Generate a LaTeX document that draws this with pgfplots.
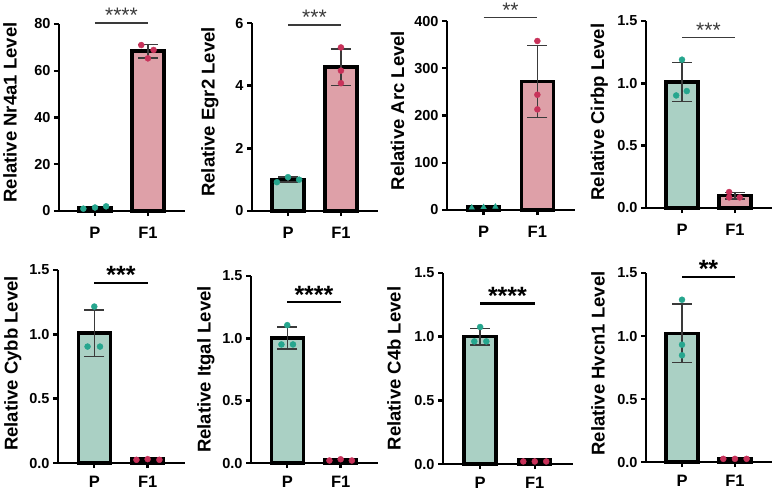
\documentclass[border=0pt]{standalone}
\usepackage{fontspec}
\setmainfont{Liberation Sans}
\usepackage{pgfplots}
\pgfplotsset{compat=1.18}

\definecolor{pfill}{HTML}{AAD0C4}
\definecolor{pdot}{HTML}{26A68E}
\definecolor{ffill}{HTML}{DEA0A8}
\definecolor{fdot}{HTML}{C8325A}
\definecolor{errc}{HTML}{3A3A3A}

\pgfplotsset{
  panel/.style={
    scale only axis, anchor=south west,
    xmin=-0.68, xmax=1.70, ymin=0,
    axis lines=left, axis line style={-, line width=2.4pt, black},
    clip=false,
    xtick={0,1}, xticklabels={P,F1},
    tick align=outside, major tick length=5pt,
    tick style={line width=2.4pt, black},
    /pgf/number format/assume math mode=true,
    yticklabel style={font=\fontsize{14.5}{14.5}\selectfont\bfseries},
    xticklabel style={font=\fontsize{16.5}{16.5}\selectfont\bfseries,
      anchor=center, text height=11.8pt, text depth=0pt, inner sep=0pt, yshift=-17pt},
    ylabel style={font=\fontsize{18.5}{18.5}\selectfont\bfseries,
      anchor=center, text height=13.2pt, text depth=0pt, inner sep=0pt},
  },
  row2/.style={xticklabel style={yshift=3.5pt}},
  frac1/.style={yticklabel style={/pgf/number format/.cd, fixed, fixed zerofill, precision=1}},
  pbar/.style={ybar, bar width=32pt, bar shift=0pt, fill=pfill, draw=black, line width=3.4pt},
  fbar/.style={ybar, bar width=32pt, bar shift=0pt, fill=ffill, draw=black, line width=3.4pt},
  witherr/.style={error bars/.cd, y dir=both, y explicit,
    error bar style={line width=1.5pt, errc},
    error mark options={rotate=90, line width=1.5pt, errc, mark size=10pt}},
  pdots/.style={only marks, mark=*, mark size=3pt, pdot, mark options={fill=pdot, draw=pdot}},
  ptris/.style={only marks, mark=triangle*, mark size=3.2pt, pdot, mark options={fill=pdot, draw=pdot}},
  fdots/.style={only marks, mark=*, mark size=3pt, fdot, mark options={fill=fdot, draw=fdot}},
}
\tikzset{
  sigA/.style={line width=1.4pt, errc},
  sigB/.style={line width=2.5pt, black},
  starA/.style={font=\fontsize{21}{21}\selectfont, text=errc, anchor=base, inner sep=0pt, yshift=0pt},
  starB/.style={font=\fontsize{25}{25}\selectfont\bfseries, text=black, anchor=base, inner sep=0pt, yshift=-1pt},
}

\begin{document}
\begin{tikzpicture}
\path[use as bounding box] (0,0) rectangle (778pt,-491pt);

% ---------- Nr4a1 ----------
\begin{axis}[panel, at={(59pt,-211pt)}, width=126pt, height=187pt,
  ymax=80, ytick={0,20,40,60,80}, ylabel={Relative Nr4a1 Level},
  ylabel style={at={(axis description cs:-0.389,0.527)}}]
\addplot[pbar] coordinates {(0,1.5)};
\addplot[fbar, witherr] coordinates {(1,68.4) +- (0,2.88)};
\addplot[pdots] coordinates {(-0.22,1.0) (0,1.5) (0.21,2.0)};
\addplot[fdots] coordinates {(0.874,71.0) (1.107,68.9) (1.0,65.3)};
\draw[sigA] (axis cs:0,80.5) -- (axis cs:1,80.5);
\node[starA] at (axis cs:0.5,80.5) {****};
\end{axis}

% ---------- Egr2 ----------
\begin{axis}[panel, at={(252pt,-211pt)}, width=126pt, height=188pt,
  ymax=6, ytick={0,2,4,6}, ylabel={Relative Egr2 Level},
  ylabel style={at={(axis description cs:-0.349,0.527)}}]
\addplot[pbar, witherr] coordinates {(0,1.0) +- (0,0.08)};
\addplot[fbar, witherr] coordinates {(1,4.59) +- (0,0.58)};
\addplot[pdots] coordinates {(-0.21,0.92) (0,1.08) (0.21,1.0)};
\addplot[fdots] coordinates {(1,5.22) (1,4.48) (1,4.08)};
\draw[sigA] (axis cs:0,5.94) -- (axis cs:1,5.94);
\node[starA] at (axis cs:0.5,5.94) {***};
\end{axis}

% ---------- Arc ----------
\begin{axis}[panel, at={(447pt,-210pt)}, width=128pt, height=189pt,
  ymax=400, ytick={0,100,200,300,400}, ylabel={Relative Arc Level},
  ylabel style={at={(axis description cs:-0.387,0.526)}}]
\addplot[pbar] coordinates {(0,6)};
\addplot[fbar, witherr] coordinates {(1,271.6) +- (0,76.1)};
\addplot[ptris] coordinates {(-0.22,5) (0,6) (0.22,7)};
\addplot[fdots] coordinates {(1,357.7) (1,244) (1,213)};
\draw[sigA] (axis cs:0,408) -- (axis cs:1,408);
\node[starA] at (axis cs:0.5,408) {**};
\end{axis}

% ---------- Cirbp ----------
\begin{axis}[panel, frac1, at={(646pt,-208pt)}, width=126pt, height=187pt,
  ymax=1.5, ytick={0,0.5,1,1.5}, ylabel={Relative Cirbp Level},
  ylabel style={at={(axis description cs:-0.385,0.513)}}]
\addplot[pbar, witherr] coordinates {(0,1.01) +- (0,0.157)};
\addplot[fbar, witherr] coordinates {(1,0.099) +- (0,0.025)};
\addplot[pdots] coordinates {(0,1.19) (0.09,0.938) (-0.11,0.903)};
\addplot[fdots] coordinates {(0.89,0.128) (0.89,0.085) (1.09,0.085)};
\draw[sigA] (axis cs:0,1.37) -- (axis cs:1,1.37);
\node[starA] at (axis cs:0.5,1.37) {***};
\end{axis}

% ---------- Cybb ----------
\begin{axis}[panel, row2, frac1, at={(58pt,-463pt)}, width=127pt, height=193pt,
  ymax=1.5, ytick={0,0.5,1,1.5}, ylabel={Relative Cybb Level},
  ylabel style={at={(axis description cs:-0.370,0.516)}}]
\addplot[pbar, witherr] coordinates {(0,1.009) +- (0,0.18)};
\addplot[fbar] coordinates {(1,0.03)};
\addplot[pdots] coordinates {(0,1.216) (-0.126,0.905) (0.107,0.905)};
\addplot[fdots] coordinates {(0.79,0.025) (1,0.03) (1.22,0.025)};
\draw[sigB] (axis cs:0,1.40) -- (axis cs:1,1.40);
\node[starB] at (axis cs:0.5,1.40) {***};
\end{axis}

% ---------- Itgal ----------
\begin{axis}[panel, row2, frac1, at={(251pt,-463pt)}, width=127pt, height=187pt,
  ymax=1.5, ytick={0,0.5,1,1.5}, ylabel={Relative Itgal Level},
  ylabel style={at={(axis description cs:-0.370,0.5)}}]
\addplot[pbar, witherr] coordinates {(0,1.003) +- (0,0.089)};
\addplot[fbar] coordinates {(1,0.03)};
\addplot[pdots] coordinates {(0,1.106) (-0.11,0.951) (0.107,0.951)};
\addplot[fdots] coordinates {(0.79,0.02) (1,0.03) (1.21,0.02)};
\draw[sigB] (axis cs:0,1.29) -- (axis cs:1,1.29);
\node[starB] at (axis cs:0.5,1.29) {****};
\end{axis}

% ---------- C4b ----------
\begin{axis}[panel, row2, frac1, at={(443pt,-464pt)}, width=130pt, height=191pt,
  ymax=1.5, ytick={0,0.5,1,1.5}, ylabel={Relative C4b Level},
  ylabel style={at={(axis description cs:-0.377,0.5)}}]
\addplot[pbar, witherr] coordinates {(0,1.0) +- (0,0.066)};
\addplot[fbar] coordinates {(1,0.03)};
\addplot[pdots] coordinates {(0,1.076) (-0.107,0.963) (0.113,0.963)};
\addplot[fdots] coordinates {(0.79,0.02) (1,0.02) (1.21,0.02)};
\draw[sigB] (axis cs:0,1.26) -- (axis cs:1,1.26);
\node[starB] at (axis cs:0.5,1.26) {****};
\end{axis}

% ---------- Hvcn1 ----------
\begin{axis}[panel, row2, frac1, at={(646pt,-462pt)}, width=126pt, height=189pt,
  ymax=1.5, ytick={0,0.5,1,1.5}, ylabel={Relative Hvcn1 Level},
  ylabel style={at={(axis description cs:-0.381,0.521)}}]
\addplot[pbar, witherr] coordinates {(0,1.022) +- (0,0.234)};
\addplot[fbar] coordinates {(1,0.03)};
\addplot[pdots] coordinates {(0,1.288) (0,0.931) (0,0.847)};
\addplot[fdots] coordinates {(0.78,0.025) (1,0.025) (1.22,0.025)};
\draw[sigB] (axis cs:0,1.47) -- (axis cs:1,1.47);
\node[starB] at (axis cs:0.5,1.47) {**};
\end{axis}
\end{tikzpicture}
\end{document}
